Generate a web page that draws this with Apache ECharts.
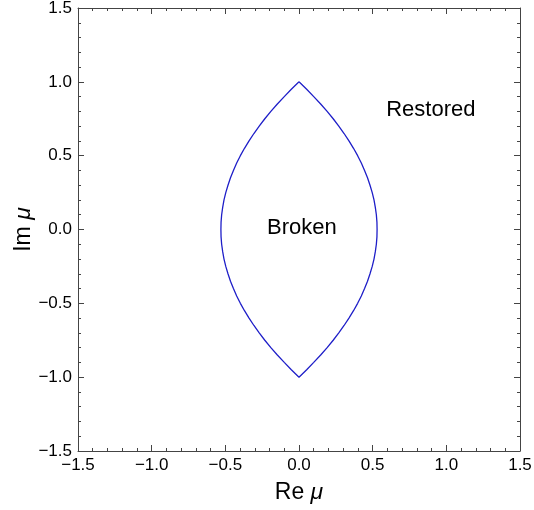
<!DOCTYPE html>
<html>
<head>
<meta charset="utf-8">
<script src="https://cdn.jsdelivr.net/npm/echarts@6/dist/echarts.min.js"></script>
<style>
html,body{margin:0;padding:0;background:#fff;}
#chart{width:534px;height:510px;}
</style>
</head>
<body>
<div id="chart"></div>
<script>
// Boundary curve (Re mu, Im mu), traced as a closed loop
const boundaryRe = [
  0.000, 0.052, 0.100, 0.147, 0.191, 0.232, 0.270, 0.306, 0.339, 0.370, 0.398,
  0.423, 0.445, 0.465, 0.482, 0.497, 0.509, 0.518, 0.525, 0.529, 0.530,
  0.529, 0.525, 0.518, 0.509, 0.497, 0.482, 0.465, 0.445, 0.423, 0.398,
  0.370, 0.339, 0.306, 0.270, 0.232, 0.191, 0.147, 0.100, 0.052, 0.000,
  -0.052, -0.100, -0.147, -0.191, -0.232, -0.270, -0.306, -0.339, -0.370, -0.398,
  -0.423, -0.445, -0.465, -0.482, -0.497, -0.509, -0.518, -0.525, -0.529, -0.530,
  -0.529, -0.525, -0.518, -0.509, -0.497, -0.482, -0.465, -0.445, -0.423, -0.398,
  -0.370, -0.339, -0.306, -0.270, -0.232, -0.191, -0.147, -0.100, -0.052, 0.000
];
const boundaryIm = [
  1.00, 0.95, 0.90, 0.85, 0.80, 0.75, 0.70, 0.65, 0.60, 0.55, 0.50,
  0.45, 0.40, 0.35, 0.30, 0.25, 0.20, 0.15, 0.10, 0.05, 0.00,
  -0.05, -0.10, -0.15, -0.20, -0.25, -0.30, -0.35, -0.40, -0.45, -0.50,
  -0.55, -0.60, -0.65, -0.70, -0.75, -0.80, -0.85, -0.90, -0.95, -1.00,
  -0.95, -0.90, -0.85, -0.80, -0.75, -0.70, -0.65, -0.60, -0.55, -0.50,
  -0.45, -0.40, -0.35, -0.30, -0.25, -0.20, -0.15, -0.10, -0.05, 0.00,
  0.05, 0.10, 0.15, 0.20, 0.25, 0.30, 0.35, 0.40, 0.45, 0.50,
  0.55, 0.60, 0.65, 0.70, 0.75, 0.80, 0.85, 0.90, 0.95, 1.00
];
// Region annotations
const regionNames = ['Restored', 'Broken'];
const regionRe = [0.895, 0.02];
const regionIm = [0.81, 0.01];
// Axis settings
const axisMin = -1.5, axisMax = 1.5, axisStep = 0.5;

const FONT = '"Liberation Sans", Arial, Helvetica, sans-serif';
const frameColor = '#444';
function fmt(v){
  const s = Math.abs(v).toFixed(1);
  return v < -1e-9 ? '\u2212' + s : s;
}
function frameAxis(pos, showLabels, extra){
  return Object.assign({
    type: 'value', position: pos,
    min: axisMin, max: axisMax, interval: axisStep,
    axisLine: {show: true, onZero: false, lineStyle: {color: frameColor, width: 1}},
    axisTick: {show: true, inside: true, length: 6, lineStyle: {color: frameColor}},
    minorTick: {show: true, splitNumber: 5, length: 3, lineStyle: {color: frameColor}},
    splitLine: {show: false},
    minorSplitLine: {show: false},
    axisLabel: {show: showLabels, formatter: fmt, color: '#000', fontSize: 17, fontFamily: FONT, margin: 6}
  }, extra || {});
}
const nameRich = {
  a: {fontSize: 23, fontFamily: FONT, color: '#000'},
  b: {fontSize: 23, fontFamily: FONT, fontStyle: 'italic', color: '#000'}
};

const chart = echarts.init(document.getElementById('chart'), null, {renderer: 'canvas'});
chart.setOption({
  animation: false,
  backgroundColor: '#fff',
  grid: {left: 78, right: 14, top: 8, bottom: 59, containLabel: false, outerBoundsMode: 'none'},
  xAxis: [
    frameAxis('bottom', true, {
      name: '{a|Re }{b|\u03bc}', nameLocation: 'middle', nameGap: 30, nameMoveOverlap: false,
      nameTextStyle: {rich: nameRich}
    }),
    frameAxis('top', false)
  ],
  yAxis: [
    frameAxis('left', true, {
      name: '{a|Im }{b|\u03bc}', nameLocation: 'middle', nameGap: 43, nameMoveOverlap: false,
      nameTextStyle: {rich: nameRich}
    }),
    frameAxis('right', false)
  ],
  series: [
    {
      type: 'line',
      data: boundaryRe.map((x, i) => [x, boundaryIm[i]]),
      showSymbol: false,
      smooth: false,
      lineStyle: {color: '#1e1ec8', width: 1.3},
      xAxisIndex: 0, yAxisIndex: 0,
      silent: true
    },
    {
      type: 'scatter',
      data: regionNames.map((n, i) => ({name: n, value: [regionRe[i], regionIm[i]]})),
      symbolSize: 0,
      itemStyle: {color: '#000', opacity: 1},
      label: {
        show: true, position: 'inside', formatter: '{b}',
        color: '#000', fontSize: 22, fontFamily: FONT,
        textBorderWidth: 0, opacity: 1
      },
      xAxisIndex: 0, yAxisIndex: 0,
      silent: true
    }
  ]
});
</script>
</body>
</html>
